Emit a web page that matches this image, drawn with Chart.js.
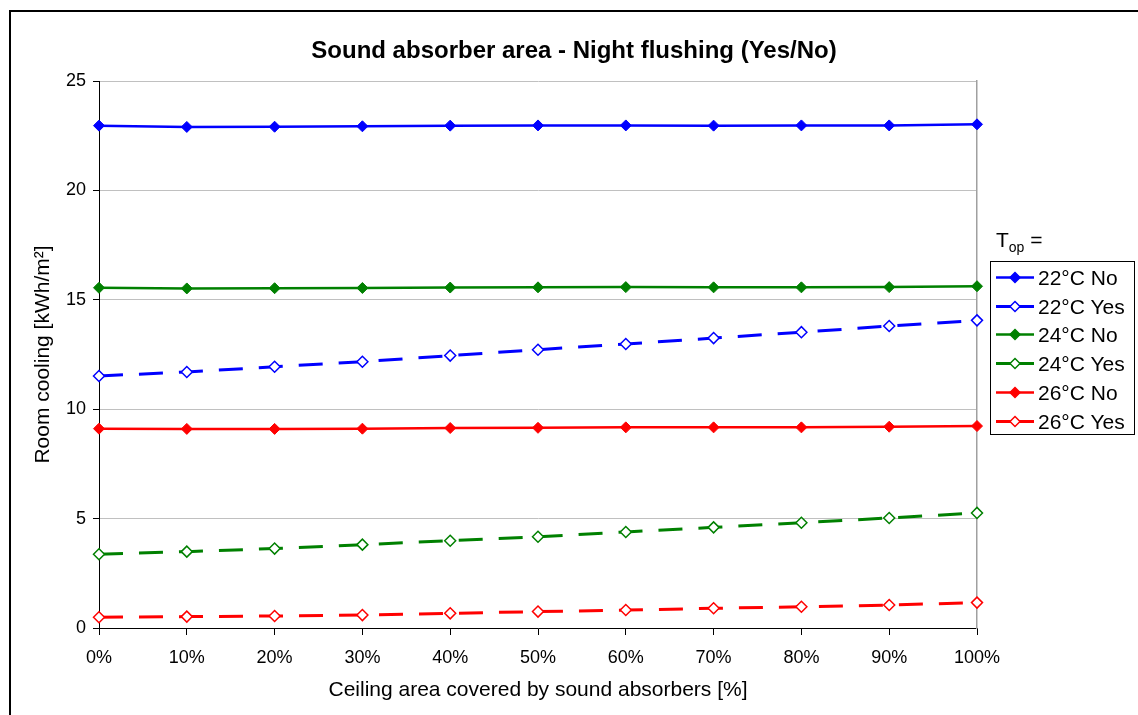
<!DOCTYPE html>
<html>
<head>
<meta charset="utf-8">
<script src="https://cdn.jsdelivr.net/npm/chart.js@4/dist/chart.umd.min.js"></script>
<style>
  html, body { margin: 0; padding: 0; background: #fff; overflow: hidden; }
  body { width: 1138px; height: 715px; position: relative; font-family: "Liberation Sans", Arial, sans-serif; }
  #frame { position: absolute; left: 9px; top: 10px; width: 1129px; height: 705px; border-left: 2px solid #000; border-top: 2px solid #000; box-sizing: border-box; }
  #wrap { position: absolute; left: 0; top: 0; width: 1138px; height: 715px; }
  #legendTitle { position: absolute; left: 996px; top: 228px; font-size: 21px; color: #000; }
  #legendTitle sub { font-size: 14px; vertical-align: -5px; }
  #legend { position: absolute; left: 990px; top: 261px; width: 145px; height: 174px; border: 1px solid #000; box-sizing: border-box; background: #fff; }
  .legend-item { position: absolute; left: 0; height: 29px; width: 145px; }
  .legend-item svg { position: absolute; left: 3px; top: 0; }
  .legend-label { position: absolute; left: 47px; top: 3px; font-size: 21px; color: #000; white-space: nowrap; }
</style>
</head>
<body>
<div id="frame"></div>
<div id="wrap"><canvas id="lineChart" width="1138" height="715"></canvas></div>
<div id="legendTitle">T<sub>op</sub> =</div>
<div id="legend"></div>
<script>
// Categories (share of ceiling covered by absorbers)
const categories = ["0%", "10%", "20%", "30%", "40%", "50%", "60%", "70%", "80%", "90%", "100%"];

// Room cooling [kWh/m2]
const t22No  = [22.96, 22.90, 22.91, 22.93, 22.96, 22.97, 22.97, 22.96, 22.97, 22.97, 23.02];
const t22Yes = [11.52, 11.70, 11.94, 12.17, 12.45, 12.72, 12.98, 13.25, 13.52, 13.80, 14.06];
const t24No  = [15.55, 15.52, 15.53, 15.54, 15.56, 15.57, 15.58, 15.57, 15.57, 15.58, 15.62];
const t24Yes = [3.37, 3.49, 3.63, 3.81, 3.99, 4.17, 4.39, 4.60, 4.81, 5.03, 5.26];
const t26No  = [9.11, 9.10, 9.10, 9.11, 9.14, 9.15, 9.17, 9.17, 9.17, 9.20, 9.23];
const t26Yes = [0.49, 0.52, 0.55, 0.59, 0.67, 0.75, 0.82, 0.90, 0.97, 1.05, 1.16];

const seriesLabels = ["22°C No", "22°C Yes", "24°C No", "24°C Yes", "26°C No", "26°C Yes"];
const yTicks = [0, 5, 10, 15, 20, 25];

const BLUE = "#0000ff", GREEN = "#008000", RED = "#ff0000";
const FONT = "'Liberation Sans', Arial, sans-serif";

// Solid line with filled diamonds ("No") or dashed with hollow diamonds ("Yes")
function makeSeries(label, data, color, dashed) {
  return {
    label: label,
    data: data,
    borderColor: color,
    borderWidth: dashed ? 3 : 2.5,
    borderDash: dashed ? [24, 16] : [],
    pointStyle: "rectRot",
    pointRadius: 5.5,
    pointHoverRadius: 5.5,
    pointBorderWidth: dashed ? 1.5 : 1,
    pointBorderColor: color,
    pointBackgroundColor: dashed ? "#ffffff" : color,
    fill: false,
    tension: 0,
    clip: false,
  };
}

const datasets = [
  makeSeries(seriesLabels[0], t22No, BLUE, false),
  makeSeries(seriesLabels[1], t22Yes, BLUE, true),
  makeSeries(seriesLabels[2], t24No, GREEN, false),
  makeSeries(seriesLabels[3], t24Yes, GREEN, true),
  makeSeries(seriesLabels[4], t26No, RED, false),
  makeSeries(seriesLabels[5], t26Yes, RED, true),
];

const ctx = document.getElementById("lineChart").getContext("2d");
const lineChart = new Chart(ctx, {
  type: "line",
  data: { labels: categories, datasets: datasets },
  options: {
    responsive: false,
    animation: false,
    events: [],
    layout: { padding: { left: 10, top: 10, right: 0, bottom: 0 } },
    plugins: {
      legend: { display: false },
      tooltip: { enabled: false },
      title: {
        display: true,
        text: "Sound absorber area - Night flushing (Yes/No)",
        color: "#000",
        font: { family: FONT, size: 24, weight: "bold", lineHeight: "26px" },
        padding: { top: 28, bottom: 17 },
      },
    },
    scales: {
      x: {
        type: "category",
        offset: false,
        grid: { drawOnChartArea: false, drawTicks: true, tickLength: 7, tickColor: "#000" },
        border: { color: "#000", width: 1 },
        ticks: { color: "#000", font: { family: FONT, size: 18 }, padding: 12, maxRotation: 0, autoSkip: false },
        title: {
          display: true,
          text: "Ceiling area covered by sound absorbers [%]",
          color: "#000",
          font: { family: FONT, size: 21 },
          padding: { top: 0, bottom: 12 },
        },
        afterFit: (scale) => { scale.height = 87; },
      },
      y: {
        min: 0,
        max: 25,
        afterBuildTicks: (scale) => { scale.ticks = yTicks.map((v) => ({ value: v })); },
        grid: { color: "#c0c0c0", lineWidth: 1, tickLength: 6, tickColor: "#000" },
        border: { color: "#000", width: 1 },
        ticks: { color: "#000", font: { family: FONT, size: 18 }, padding: 7 },
        title: {
          display: true,
          text: "Room cooling [kWh/m²]",
          color: "#000",
          font: { family: FONT, size: 21 },
          padding: { top: 21, bottom: 0 },
        },
        afterFit: (scale) => { scale.width = 89; },
      },
      // empty right axis: reserves the legend space and draws the grey plot edge
      yRight: {
        position: "right",
        display: true,
        grid: { drawOnChartArea: false, drawTicks: false },
        border: { color: "#a0a0a0", width: 1.5 },
        ticks: { display: false },
        afterFit: (scale) => { scale.width = 161; },
      },
    },
  },
});

// Custom legend with line + marker samples
const legendBox = document.getElementById("legend");
datasets.forEach((ds, index) => {
  const item = document.createElement("div");
  item.classList.add("legend-item");
  item.style.top = (1 + index * 28.7) + "px";
  const dashed = ds.borderDash.length > 0;
  const line = dashed
    ? `<line x1="2" y1="14.5" x2="17" y2="14.5" stroke="${ds.borderColor}" stroke-width="3"/>
       <line x1="25" y1="14.5" x2="40" y2="14.5" stroke="${ds.borderColor}" stroke-width="3"/>`
    : `<line x1="2" y1="14.5" x2="40" y2="14.5" stroke="${ds.borderColor}" stroke-width="2.5"/>`;
  item.innerHTML = `
    <svg width="44" height="29">${line}
      <polygon points="21,9.5 26,14.5 21,19.5 16,14.5" fill="${ds.pointBackgroundColor}" stroke="${ds.borderColor}" stroke-width="1.5"/>
    </svg>
    <div class="legend-label">${ds.label}</div>`;
  legendBox.appendChild(item);
});
</script>
</body>
</html>
